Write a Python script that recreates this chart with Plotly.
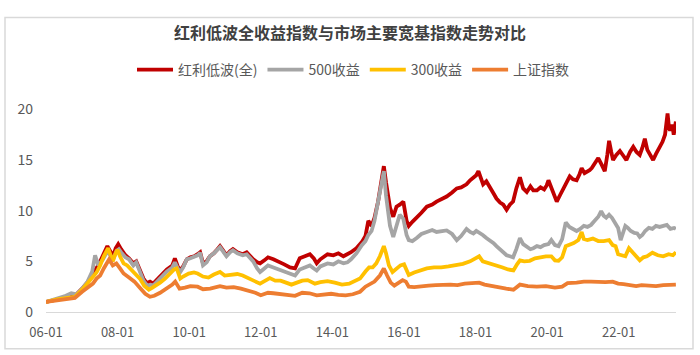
import plotly.graph_objects as go
import pandas as pd

# ---------------- data ----------------
names = ["红利低波(全)", "500收益", "300收益", "上证指数"]

t_red = [2006.0, 2006.2, 2006.4, 2006.6, 2006.8, 2007.0, 2007.15, 2007.3, 2007.45, 2007.58, 2007.7, 2007.78,
         2007.86, 2007.93, 2008.0, 2008.08, 2008.2, 2008.3, 2008.42, 2008.5, 2008.6, 2008.7, 2008.79, 2008.88,
         2008.97, 2009.08, 2009.2, 2009.35, 2009.5, 2009.57, 2009.65, 2009.72, 2009.8, 2009.9, 2010.0, 2010.1,
         2010.2, 2010.27, 2010.35, 2010.45, 2010.54, 2010.65, 2010.75, 2010.82, 2010.9, 2011.0, 2011.1, 2011.18,
         2011.3, 2011.45, 2011.56, 2011.65, 2011.74, 2011.85, 2011.93, 2012.05, 2012.15, 2012.3, 2012.45, 2012.6,
         2012.76, 2012.9, 2013.03, 2013.15, 2013.31, 2013.42, 2013.5, 2013.6, 2013.7, 2013.8, 2013.96, 2014.1,
         2014.24, 2014.35, 2014.45, 2014.6, 2014.75, 2014.85, 2014.93, 2015.02, 2015.1, 2015.2, 2015.28, 2015.36,
         2015.42, 2015.47, 2015.53, 2015.62, 2015.71, 2015.8, 2015.9, 2015.99, 2016.05, 2016.15, 2016.27, 2016.4,
         2016.55, 2016.7, 2016.82, 2016.95, 2017.1, 2017.25, 2017.38, 2017.5, 2017.65, 2017.75, 2017.84, 2017.92,
         2017.98, 2018.05, 2018.11, 2018.2, 2018.3, 2018.4, 2018.48, 2018.58, 2018.67, 2018.76, 2018.85, 2018.94,
         2019.03, 2019.13, 2019.22, 2019.32, 2019.42, 2019.5, 2019.6, 2019.7, 2019.8, 2019.87, 2019.92, 2020.0,
         2020.08, 2020.15, 2020.25, 2020.33, 2020.42, 2020.51, 2020.6, 2020.7, 2020.78, 2020.84, 2020.92, 2020.98,
         2021.06, 2021.12, 2021.2, 2021.3, 2021.4, 2021.48, 2021.55, 2021.6, 2021.66, 2021.71, 2021.8, 2021.9,
         2022.0, 2022.08, 2022.18, 2022.27, 2022.36, 2022.45, 2022.52, 2022.59, 2022.66, 2022.73, 2022.82, 2022.9,
         2023.0, 2023.08, 2023.15, 2023.22, 2023.26, 2023.29, 2023.35, 2023.39, 2023.45]
v_red = [1.0, 1.15, 1.3, 1.45, 1.6, 2.3, 2.9, 3.8, 4.6, 5.6, 6.5, 6.0,
         5.5, 6.3, 6.7, 6.2, 5.6, 5.3, 4.8, 5.0, 4.2, 3.3, 2.85, 3.0,
         2.8, 3.2, 3.7, 4.2, 4.6, 5.3, 4.5, 4.1, 4.5, 5.2, 5.4, 5.5,
         5.7, 5.9, 4.8, 5.0, 5.5, 5.8, 6.2, 6.5, 6.1, 5.6, 6.0, 6.2,
         5.9, 5.7, 5.9, 5.5, 5.2, 4.9, 4.8, 5.1, 5.4, 5.2, 4.9, 4.7,
         4.4, 4.3, 5.3, 5.5, 5.7, 5.3, 4.8, 5.2, 5.5, 5.7, 5.6, 5.8,
         5.5, 5.7, 5.9, 6.3, 6.9, 7.5, 9.0, 8.5, 9.3, 10.9, 12.5, 14.4,
         12.8, 11.6, 10.3, 9.4, 10.4, 10.6, 10.9, 9.0, 8.5, 8.9, 9.3, 9.8,
         10.4, 10.6, 10.9, 11.1, 11.4, 11.8, 12.2, 12.3, 12.6, 13.0, 13.3, 13.5,
         13.9, 13.2, 12.6, 12.9, 12.2, 11.7, 11.2, 10.8, 10.6, 10.1, 10.6, 10.9,
         12.2, 13.3, 12.2, 11.85, 12.4, 12.0, 12.0, 12.3, 12.1, 12.5, 13.0, 12.2,
         11.6, 10.9, 11.6, 12.2, 12.8, 13.4, 13.1, 13.0, 13.6, 14.2, 13.7, 13.8,
         14.0, 14.2, 14.7, 15.2, 14.5, 13.9, 15.5, 16.9, 15.8, 15.0, 15.5, 15.9,
         15.4, 15.0, 15.8, 16.3, 15.8, 15.5, 16.2, 17.1, 16.0, 15.5, 15.0, 15.6,
         16.3, 16.8, 17.5, 19.6, 18.2, 17.9, 18.5, 17.5, 18.8]

t_500 = [2006.0, 2006.2, 2006.4, 2006.55, 2006.7, 2006.85, 2007.0, 2007.15, 2007.28, 2007.36, 2007.45, 2007.58,
         2007.7, 2007.78, 2007.86, 2007.95, 2008.02, 2008.1, 2008.2, 2008.3, 2008.42, 2008.5, 2008.6, 2008.7,
         2008.8, 2008.9, 2008.97, 2009.08, 2009.2, 2009.35, 2009.5, 2009.57, 2009.65, 2009.72, 2009.8, 2009.9,
         2010.0, 2010.1, 2010.2, 2010.27, 2010.35, 2010.45, 2010.54, 2010.65, 2010.75, 2010.82, 2010.9, 2011.0,
         2011.1, 2011.18, 2011.3, 2011.45, 2011.56, 2011.65, 2011.74, 2011.85, 2011.93, 2012.05, 2012.15, 2012.3,
         2012.45, 2012.6, 2012.76, 2012.9, 2013.03, 2013.15, 2013.31, 2013.42, 2013.5, 2013.6, 2013.7, 2013.8,
         2013.96, 2014.1, 2014.24, 2014.35, 2014.45, 2014.6, 2014.75, 2014.85, 2014.93, 2015.02, 2015.1, 2015.2,
         2015.28, 2015.36, 2015.42, 2015.47, 2015.53, 2015.62, 2015.71, 2015.8, 2015.9, 2015.99, 2016.05, 2016.15,
         2016.27, 2016.4, 2016.55, 2016.7, 2016.82, 2016.95, 2017.1, 2017.25, 2017.38, 2017.5, 2017.65, 2017.75,
         2017.84, 2017.92, 2017.98, 2018.1, 2018.2, 2018.3, 2018.4, 2018.48, 2018.58, 2018.67, 2018.76, 2018.85,
         2018.94, 2019.03, 2019.13, 2019.22, 2019.32, 2019.42, 2019.5, 2019.6, 2019.7, 2019.8, 2019.92, 2020.0,
         2020.1, 2020.2, 2020.3, 2020.4, 2020.5, 2020.6, 2020.7, 2020.8, 2020.9, 2021.0, 2021.1, 2021.2,
         2021.3, 2021.38, 2021.45, 2021.52, 2021.6, 2021.68, 2021.74, 2021.8, 2021.85, 2021.92, 2022.0, 2022.05,
         2022.12, 2022.2, 2022.3, 2022.38, 2022.45, 2022.52, 2022.6, 2022.7, 2022.8, 2022.9, 2023.0, 2023.1,
         2023.2, 2023.3, 2023.4, 2023.45]
v_500 = [1.0, 1.2, 1.45, 1.6, 1.85, 1.75, 2.3, 3.0, 4.0, 5.6, 4.6, 5.2,
         6.0, 5.6, 5.2, 6.0, 6.2, 5.8, 5.4, 5.2, 4.6, 4.9, 4.0, 3.1,
         2.6, 2.7, 2.6, 3.0, 3.5, 4.0, 4.4, 4.9, 4.3, 3.95, 4.4, 5.2,
         5.3, 5.5, 5.6, 5.85, 4.6, 4.9, 5.5, 5.8, 6.1, 6.4, 6.0, 5.5,
         5.9, 6.1, 5.8, 5.6, 5.7, 5.3, 5.0, 4.3, 3.95, 4.3, 4.6, 4.4,
         4.2, 4.0, 3.7, 3.6, 4.2, 4.4, 4.6, 4.3, 4.1, 4.5, 4.7, 4.8,
         4.7, 5.0, 4.8, 4.9, 5.2, 5.8, 6.6, 7.0, 7.6, 8.0, 9.0, 11.0,
         12.3, 13.9, 11.5, 10.0, 8.5, 7.4, 8.5, 9.6, 9.2, 7.6, 7.1, 7.0,
         7.3, 7.7, 7.9, 8.1, 7.9, 8.0, 8.05, 7.7, 7.1, 7.5, 8.2, 7.9,
         7.75, 8.0, 7.9, 7.6, 7.3, 7.1, 6.8, 6.5, 6.2, 5.85, 5.6, 5.5,
         5.4, 6.2, 7.3, 6.7, 6.4, 6.2, 6.3, 6.5, 6.4, 6.6, 6.7, 7.1,
         6.6, 6.5, 7.2, 8.85, 8.4, 8.2, 8.0, 8.2, 8.5, 8.4, 8.6, 9.0,
         9.4, 9.95, 9.5, 9.3, 9.6, 9.3, 9.0, 8.6, 8.3, 7.1, 7.9, 8.5,
         8.3, 8.0, 7.8, 7.75, 7.4, 7.6, 8.0, 8.3, 8.2, 8.5, 8.4, 8.5,
         8.6, 8.2, 8.3, 8.2]

t_300 = [2006.0, 2006.3, 2006.6, 2006.8, 2007.0, 2007.15, 2007.3, 2007.4, 2007.5, 2007.6, 2007.72, 2007.78,
         2007.85, 2007.93, 2007.98, 2008.05, 2008.15, 2008.25, 2008.33, 2008.45, 2008.6, 2008.72, 2008.85, 2008.95,
         2009.05, 2009.16, 2009.3, 2009.45, 2009.55, 2009.62, 2009.72, 2009.8, 2009.95, 2010.1, 2010.2, 2010.35,
         2010.5, 2010.65, 2010.82, 2010.95, 2011.1, 2011.3, 2011.45, 2011.6, 2011.75, 2011.93, 2012.1, 2012.2,
         2012.35, 2012.5, 2012.65, 2012.8, 2012.95, 2013.1, 2013.25, 2013.45, 2013.6, 2013.8, 2014.0, 2014.2,
         2014.4, 2014.55, 2014.7, 2014.85, 2014.95, 2015.05, 2015.15, 2015.25, 2015.36, 2015.42, 2015.5, 2015.6,
         2015.7, 2015.82, 2015.92, 2016.0, 2016.05, 2016.2, 2016.35, 2016.55, 2016.75, 2016.95, 2017.15, 2017.35,
         2017.55, 2017.75, 2017.9, 2018.0, 2018.1, 2018.3, 2018.5, 2018.65, 2018.8, 2018.95, 2019.05, 2019.13,
         2019.25, 2019.4, 2019.55, 2019.7, 2019.85, 2020.0, 2020.1, 2020.2, 2020.3, 2020.4, 2020.5, 2020.62,
         2020.75, 2020.84, 2020.9, 2021.0, 2021.15, 2021.3, 2021.45, 2021.6, 2021.7, 2021.78, 2021.85, 2021.95,
         2022.05, 2022.15, 2022.25, 2022.35, 2022.45, 2022.55, 2022.65, 2022.8, 2022.95, 2023.1, 2023.25, 2023.37,
         2023.45]
v_300 = [1.0, 1.25, 1.4, 1.5, 2.2, 2.8, 3.5, 3.9, 4.6, 5.5, 6.3, 5.6,
         5.0, 5.8, 6.15, 5.5, 4.8, 4.6, 4.3, 3.9, 3.3, 2.6, 2.2, 2.4,
         2.6, 2.9, 3.3, 3.8, 4.2, 4.3, 3.3, 3.5, 3.8, 3.9, 3.8, 3.5,
         3.4, 3.7, 3.95, 3.6, 3.65, 3.75, 3.6, 3.3, 3.1, 2.8, 3.1, 3.35,
         3.1, 3.1, 2.9, 2.7, 2.9, 3.1, 3.15, 2.8, 2.95, 3.05, 2.9, 2.7,
         2.8, 3.0, 3.3, 4.0, 4.4, 4.4, 4.8, 5.5, 6.5, 5.8, 4.6, 3.95,
         4.3, 4.6, 4.7, 3.9, 3.65, 3.9, 4.1, 4.3, 4.4, 4.4, 4.5, 4.6,
         4.75, 5.0, 5.3, 5.5, 5.0, 4.8, 4.6, 4.4, 4.2, 4.1, 4.7, 5.1,
         5.0, 5.05, 5.3, 5.4, 5.5, 5.5, 5.1, 5.05, 5.4, 6.5, 6.6, 6.8,
         7.1, 7.9, 7.2, 7.1, 7.25, 7.0, 7.0, 7.1, 6.6, 6.5, 5.7, 5.6,
         5.5, 6.3, 5.9, 5.6, 5.1, 5.4, 5.5, 5.85, 5.6, 5.5, 5.7, 5.6,
         5.9]

t_sh = [2006.0, 2006.3, 2006.6, 2006.8, 2007.0, 2007.15, 2007.3, 2007.4, 2007.5, 2007.6, 2007.75, 2007.85,
        2007.95, 2008.05, 2008.15, 2008.3, 2008.45, 2008.6, 2008.75, 2008.88, 2009.0, 2009.16, 2009.35, 2009.5,
        2009.58, 2009.7, 2009.85, 2010.0, 2010.2, 2010.35, 2010.55, 2010.82, 2011.0, 2011.2, 2011.4, 2011.6,
        2011.8, 2011.95, 2012.15, 2012.3, 2012.5, 2012.7, 2012.9, 2013.1, 2013.3, 2013.5, 2013.7, 2013.9,
        2014.1, 2014.3, 2014.5, 2014.7, 2014.85, 2014.95, 2015.1, 2015.25, 2015.36, 2015.45, 2015.55, 2015.65,
        2015.75, 2015.88, 2015.97, 2016.05, 2016.2, 2016.4, 2016.6, 2016.8, 2017.0, 2017.2, 2017.4, 2017.6,
        2017.8, 2018.0, 2018.15, 2018.35, 2018.55, 2018.75, 2018.95, 2019.13, 2019.35, 2019.6, 2019.85, 2020.1,
        2020.3, 2020.45, 2020.7, 2020.9, 2021.1, 2021.3, 2021.5, 2021.7, 2021.85, 2022.0, 2022.2, 2022.35,
        2022.5, 2022.7, 2022.9, 2023.1, 2023.3, 2023.45]
v_sh = [1.0, 1.15, 1.3, 1.4, 2.0, 2.4, 2.8, 3.3, 3.6, 4.3, 5.2, 4.6,
        4.8, 4.3, 3.8, 3.4, 3.0, 2.4, 1.8, 1.5, 1.6, 1.9, 2.3, 2.7,
        3.0, 2.3, 2.4, 2.55, 2.5, 2.25, 2.3, 2.55, 2.4, 2.45, 2.3, 2.1,
        1.9, 1.65, 1.9, 1.85, 1.75, 1.65, 1.6, 1.9, 1.85, 1.65, 1.75, 1.8,
        1.7, 1.65, 1.75, 2.0, 2.5, 2.7, 3.0, 3.6, 4.3, 3.6, 2.9, 2.6,
        2.8, 3.15, 3.0, 2.5, 2.45, 2.55, 2.6, 2.65, 2.7, 2.7, 2.65, 2.8,
        2.85, 2.9, 2.7, 2.55, 2.45, 2.3, 2.2, 2.7, 2.55, 2.5, 2.55, 2.4,
        2.5, 2.85, 2.9, 3.0, 3.0, 2.95, 2.95, 3.0, 2.8, 2.75, 2.6, 2.55,
        2.65, 2.6, 2.55, 2.65, 2.7, 2.7]

y_ticks = [0, 5, 10, 15, 20]
x_tick_years = [2006, 2008, 2010, 2012, 2014, 2016, 2018, 2020, 2022]

colors = ["#C00000", "#A5A5A5", "#FFC000", "#ED7D31"]

# the time readings above were taken on a 36.1 px/year grid; the picture's axis is 35.8 px/year
READ_CAL = 36.1 / 35.8


def to_dates(years, cal=1.0):
    base = pd.Timestamp("2006-01-01")
    return [base + pd.Timedelta(days=(y - 2006.0) * cal * 365.25) for y in years]


series = [(t_red, v_red), (t_500, v_500), (t_300, v_300), (t_sh, v_sh)]

fig = go.Figure()
for (t, v), name, col in zip(series, names, colors):
    fig.add_trace(go.Scatter(
        x=to_dates(t, READ_CAL), y=v, name=name, mode="lines",
        line=dict(color=col, width=3.8, shape="linear"),
        hoverinfo="skip",
    ))

FONT = "Noto Sans CJK SC, Noto Sans, sans-serif"
W, H = 700, 355
L, R, T, B = 46, 24, 100.7, 43.3

fig.update_layout(
    width=W, height=H,
    margin=dict(l=L, r=R, t=T, b=B, pad=0),
    paper_bgcolor="white", plot_bgcolor="white",
    font=dict(family=FONT, color="#595959", size=13),
    title=dict(text="<b>红利低波全收益指数与市场主要宽基指数走势对比</b>",
               x=0.5, xref="container", xanchor="center",
               y=1 - 33 / H, yref="container", yanchor="middle",
               font=dict(size=16, color="#404040", family=FONT)),
    legend=dict(orientation="h", x=353.5 / W, xref="container", xanchor="center",
                y=1 - 70 / H, yref="container", yanchor="middle",
                font=dict(size=14, color="#595959", family=FONT),
                itemwidth=36, tracegroupgap=0, bgcolor="rgba(0,0,0,0)"),
    showlegend=True,
)

fig.update_xaxes(
    type="date",
    range=[to_dates([2006.0])[0], to_dates([2023.6])[0]],
    tickvals=to_dates(x_tick_years),
    ticktext=[f"{y % 100:02d}-01" for y in x_tick_years],
    showgrid=False, zeroline=False,
    showline=True, linecolor="#D9D9D9", linewidth=1,
    ticks="", ticklabelstandoff=8,
    tickfont=dict(size=13, color="#595959"),
)
fig.update_yaxes(
    range=[0, 20], tickvals=y_ticks,
    showgrid=False, zeroline=False, showline=False,
    ticks="", ticklabelstandoff=12,
    tickfont=dict(size=14, color="#595959"),
)

# outer frame of the chart
pw = W - L - R
ph = H - T - B
fig.add_shape(type="rect", xref="paper", yref="paper",
              x0=(5 - L) / pw, x1=(693 - L) / pw,
              y0=(H - B - 350) / ph, y1=(H - B - 5) / ph,
              line=dict(color="#D9D9D9", width=1.5), fillcolor="rgba(0,0,0,0)", layer="below")

fig.write_html("out.html", config={"displayModeBar": False},
               post_script="document.body.style.margin='0';document.body.style.padding='0';")
